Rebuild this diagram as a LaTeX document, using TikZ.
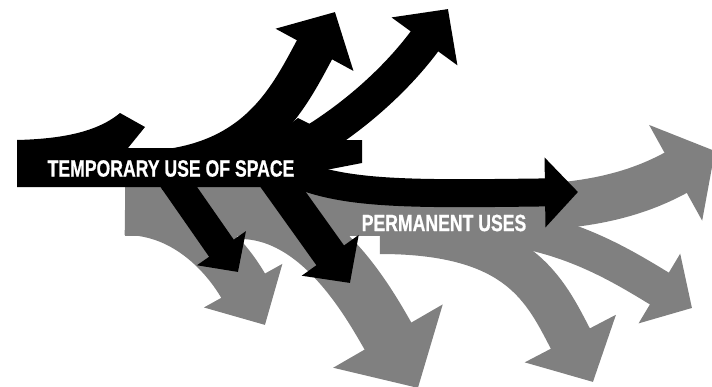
\documentclass[tikz,border=0pt]{standalone}
\usepackage{fontspec}
\newfontfamily\bannerfont{Liberation Sans}[FakeStretch=0.75, FakeBold=0.8]
\usetikzlibrary{arrows.meta}
\definecolor{cgrey}{HTML}{808080}
\tikzset{
  flow/.style n args={4}{draw=#1, line width=#2, -{Triangle[length=#3, width=#4]}},
  banner/.style={text=white, inner sep=0pt, font=\bannerfont\bfseries\fontsize{23.5}{24}\selectfont},
}

\begin{document}
\begin{tikzpicture}[x=1pt, y=-1pt]
  \clip (0,0) rectangle (712,386);
  % permanent uses
  \fill[cgrey] (125,185) rectangle (560,236);
  \draw[flow={cgrey}{50pt}{45pt}{87pt}] (125,210) .. controls (190,210) and (230,262) .. (265,325);
  \draw[flow={cgrey}{54pt}{60pt}{123pt}] (240,212) .. controls (320,212) and (370,305) .. (418,388);
  \draw[flow={cgrey}{44pt}{49pt}{100pt}] (380,232) .. controls (520,232) and (545,290) .. (593,382);
  \draw[flow={cgrey}{37pt}{38pt}{79pt}] (470,225) .. controls (560,225) and (625,268) .. (692,308);
  \draw[flow={cgrey}{46pt}{45pt}{107pt}] (500,208) .. controls (580,208) and (632,197) .. (715,151);
  % temporary use
  \fill[black] (17,187) -- (17,140) .. controls (55,139) and (95,134) .. (120,113) -- (145,127) -- (128,148)
    -- (260,148) -- (298,118) -- (318,128) -- (330,140) -- (362,140) -- (362,163) -- (300,175) -- (300,187) -- cycle;
  \draw[flow={black}{40pt}{43pt}{86pt}] (160,170) .. controls (260,160) and (290,95) .. (335,12);
  \draw[flow={black}{34pt}{40pt}{79pt}] (280,160) .. controls (350,125) and (400,75) .. (448,9);
  \draw[flow={black}{28pt}{33pt}{68pt}] (300,175) .. controls (350,195) and (420,194) .. (578,192);
  \draw[flow={black}{30pt}{29pt}{58pt}] (160,160) -- (238,272);
  \draw[flow={black}{34pt}{34pt}{68pt}] (262,160) -- (350,283);
  \node[banner] (temp) at (171,168.5) {TEMPORARY USE OF SPACE};
  \node[banner] (perm) at (444,223) {PERMANENT USES};
\end{tikzpicture}
\end{document}
